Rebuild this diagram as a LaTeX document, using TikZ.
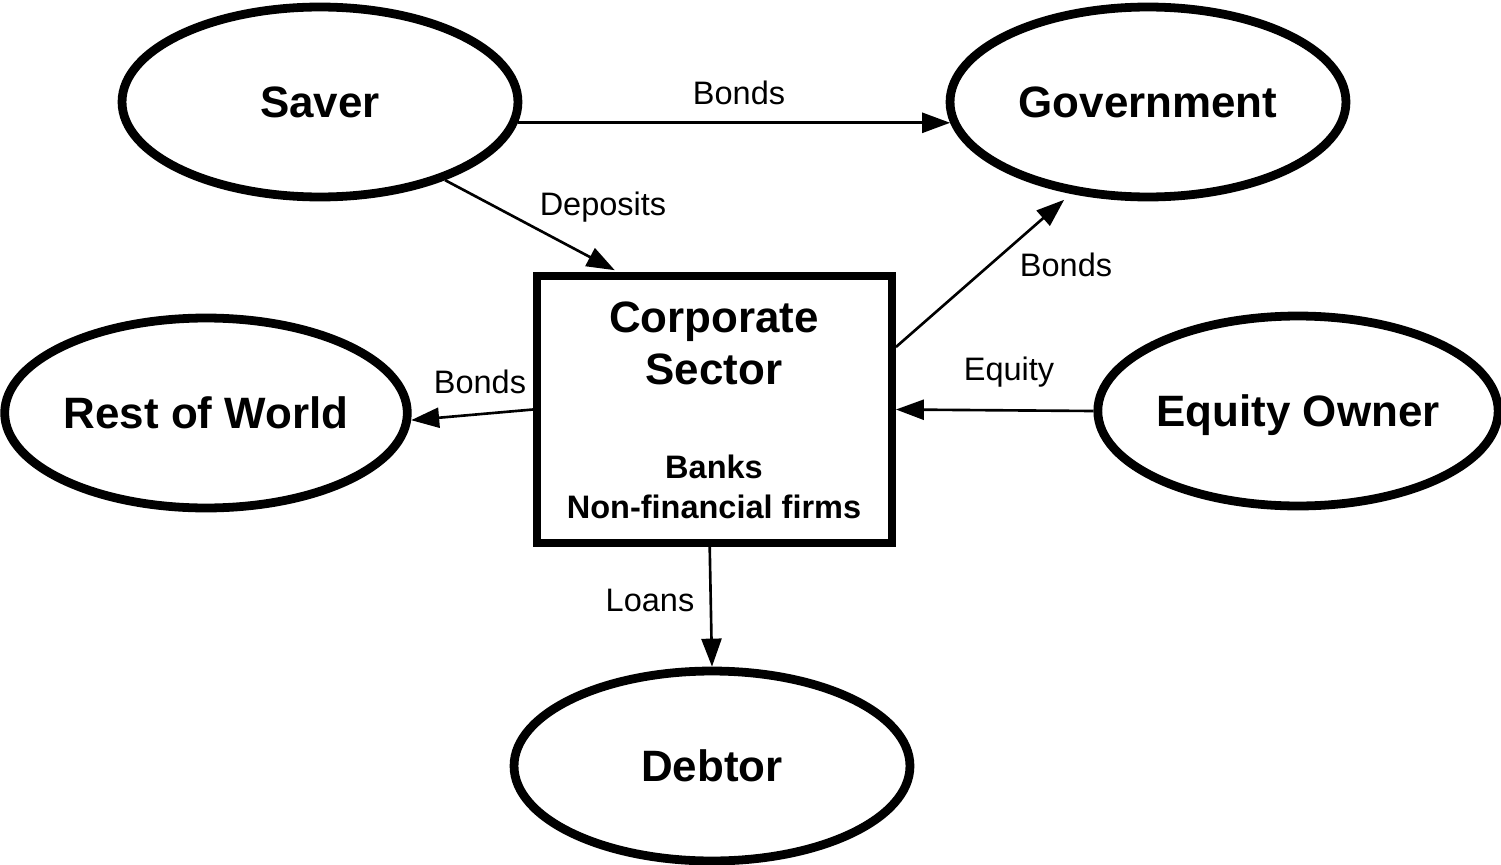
\documentclass[tikz,border=0pt]{standalone}
\usepackage{fontspec}
\setmainfont{Liberation Sans}
\usepackage{tikz}
\usetikzlibrary{positioning, shapes.geometric, arrows.meta}
\tikzstyle{flowChart} = [x = 0.02cm, y = -0.02cm]
\tikzstyle{sectorStyle} = [draw, ellipse, line width = 5pt, inner sep = 0pt, minimum width = 7.92cm, minimum height = 3.8cm, text depth = 0pt, font = \fontsize{25}{30}\selectfont\bfseries]
\tikzstyle{boxStyle} = [draw, rectangle, line width = 4.5pt, minimum width = 7.1cm, minimum height = 5.34cm]
\tikzstyle{boxTitle} = [font = \fontsize{25}{30}\selectfont\bfseries, inner sep = 0pt, text depth = 0pt]
\tikzstyle{boxText} = [font = \fontsize{18.5}{22}\selectfont\bfseries, inner sep = 0pt]
\tikzstyle{flowArrow} = [line width = 1.5pt, -{Triangle[length = 0.56cm, width = 0.4cm]}]
\tikzstyle{flowLabel} = [font = \fontsize{18.5}{22}\selectfont, inner sep = 0pt, text depth = 0pt]
\newcommand{\sectorEllipse}[4]{\node [sectorStyle] (#1) at (#2, #3) {#4};}
\newcommand{\flowText}[4]{\node [flowLabel] (#1) at (#2, #3) {#4};}

\begin{document}
\begin{tikzpicture}[flowChart]
  \useasboundingbox (0, 0) rectangle (1501, 865);

  % sectors
  \sectorEllipse{saver}{320}{102}{Saver}
  \sectorEllipse{government}{1148}{102}{Government}
  \sectorEllipse{rest}{206}{413}{Rest of World}
  \sectorEllipse{equity}{1298}{411}{Equity Owner}
  \sectorEllipse{debtor}{712}{766}{Debtor}

  % corporate sector box
  \node [boxStyle] (corporate) at (714.5, 409.5) {};
  \node [boxTitle] (corporateTop) at (714, 317) {Corporate};
  \node [boxTitle] (corporateBottom) at (714, 369) {Sector};
  \node [boxText] (banks) at (714, 467) {Banks};
  \node [boxText] (firms) at (714, 507) {Non-financial firms};

  % flows
  \draw [flowArrow] (saver.-6) -- (government.186);
  \draw [flowArrow, shorten > = 0.08cm] (saver.-32) -- (corporate.125.6);
  \draw [flowArrow, shorten > = 0.18cm] (corporate.19) -- (government.230);
  \draw [flowArrow] (equity.west) -- (corporate.east);
  \draw [flowArrow] (corporate.west) -- (rest.-2);
  \draw [flowArrow] (corporate.-92.5) -- (debtor.north);

  \flowText{bondsTop}{739}{93}{Bonds}
  \flowText{deposits}{603}{204}{Deposits}
  \flowText{bondsGov}{1066}{265}{Bonds}
  \flowText{equityLabel}{1009}{369}{Equity}
  \flowText{bondsWorld}{480}{382}{Bonds}
  \flowText{loans}{650}{600}{Loans}
\end{tikzpicture}
\end{document}
